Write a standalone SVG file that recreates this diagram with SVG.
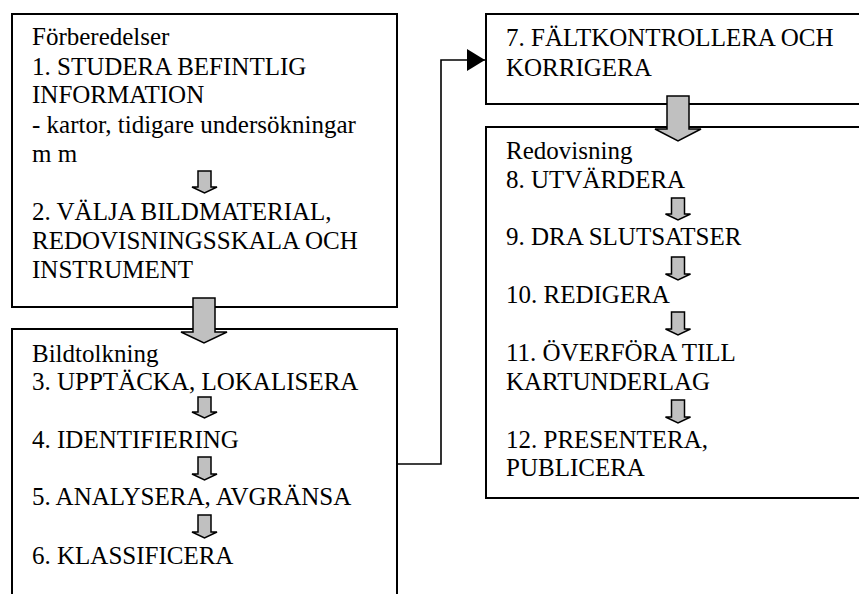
<svg xmlns="http://www.w3.org/2000/svg" width="859" height="594" viewBox="0 0 859 594">
<defs>
<style>
.box{fill:#fff;stroke:#000;stroke-width:2}
.t{font-size:25px;fill:#000}
.arr{fill:#c0c0c0;stroke:#000;stroke-width:1.5;stroke-linejoin:miter}
.con{fill:none;stroke:#000;stroke-width:1.6}
</style>
<marker id="ah" markerUnits="userSpaceOnUse" markerWidth="19" markerHeight="22" refX="18" refY="11" orient="auto">
<path d="M0,0 L18,11 L0,22 Z" fill="#000"/>
</marker>
</defs>
<rect width="859" height="594" fill="#fff"/>
<g id="connectors">
<polyline class="con" points="397,464 441,464 441,60 485,60" marker-end="url(#ah)"/>
</g>
<g font-family="Liberation Serif, Times New Roman, DejaVu Serif, serif">
<g id="forberedelser">
<rect class="box" x="12" y="14" width="385" height="293"/>
<text class="t" x="32" y="45">Förberedelser</text>
<text class="t" x="32" y="74.5">1. STUDERA BEFINTLIG</text>
<text class="t" x="32" y="103">INFORMATION</text>
<text class="t" x="32" y="132.5">- kartor, tidigare undersökningar</text>
<text class="t" x="32" y="161.5">m m</text>
<path class="arr" d="M198,171 H211 V187 H217 L204.5,193 L192,187 H198 Z"/>
<text class="t" x="32" y="220">2. VÄLJA BILDMATERIAL,</text>
<text class="t" x="32" y="249">REDOVISNINGSSKALA OCH</text>
<text class="t" x="32" y="278">INSTRUMENT</text>
</g>
<g id="bildtolkning">
<rect class="box" x="12" y="329" width="385" height="280"/>
<text class="t" x="32" y="362">Bildtolkning</text>
<text class="t" x="32" y="390">3. UPPTÄCKA, LOKALISERA</text>
<path class="arr" d="M198,397 H211 V412 H217 L204.5,418 L192,412 H198 Z"/>
<text class="t" x="32" y="447.5">4. IDENTIFIERING</text>
<path class="arr" d="M198,457 H211 V474 H217 L204.5,480 L192,474 H198 Z"/>
<text class="t" x="32" y="505">5. ANALYSERA, AVGRÄNSA</text>
<path class="arr" d="M198,515 H211 V532 H217 L204.5,538 L192,532 H198 Z"/>
<text class="t" x="32" y="563.5">6. KLASSIFICERA</text>
</g>
<g id="faltkontroll">
<rect class="box" x="486" y="14" width="400" height="90"/>
<text class="t" x="506" y="46">7. FÄLTKONTROLLERA OCH</text>
<text class="t" x="506" y="75.5">KORRIGERA</text>
</g>
<g id="redovisning">
<rect class="box" x="486" y="127" width="400" height="371"/>
<text class="t" x="506" y="158.5">Redovisning</text>
<text class="t" x="506" y="187.5">8. UTVÄRDERA</text>
<path class="arr" d="M671.5,198 H684.5 V214 H690.5 L678,220 L665.5,214 H671.5 Z"/>
<text class="t" x="506" y="245">9. DRA SLUTSATSER</text>
<path class="arr" d="M671.5,257 H684.5 V274 H690.5 L678,280 L665.5,274 H671.5 Z"/>
<text class="t" x="506" y="302.5">10. REDIGERA</text>
<path class="arr" d="M671.5,312 H684.5 V329 H690.5 L678,335 L665.5,329 H671.5 Z"/>
<text class="t" x="506" y="360.5">11. ÖVERFÖRA TILL</text>
<text class="t" x="506" y="389.5">KARTUNDERLAG</text>
<path class="arr" d="M671.5,400 H684.5 V417 H690.5 L678,423 L665.5,417 H671.5 Z"/>
<text class="t" x="506" y="447.5">12. PRESENTERA,</text>
<text class="t" x="506" y="476">PUBLICERA</text>
</g>
</g>
<g id="big-arrows">
<path class="arr" d="M193,298 H215 V332 H227 L204,343 L181,332 H193 Z"/>
<path class="arr" d="M667,96 H689 V129 H701 L678,141 L655,129 H667 Z"/>
</g>
</svg>
